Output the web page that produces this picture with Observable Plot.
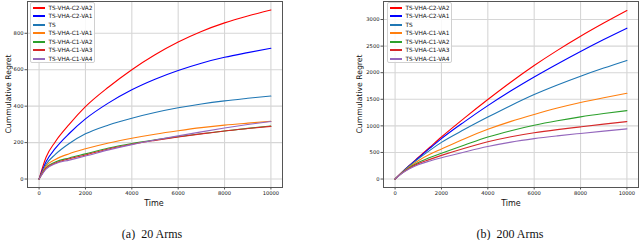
<!DOCTYPE html>
<html>
<head>
<meta charset="utf-8">
<script src="https://cdn.jsdelivr.net/npm/d3@7"></script>
<script src="https://cdn.jsdelivr.net/npm/@observablehq/plot@0.6"></script>
<style>
  html, body { margin: 0; padding: 0; background: white; }
  #root { position: relative; width: 640px; height: 240px; overflow: hidden; font-family: "DejaVu Sans", sans-serif; }
  .panel { position: absolute; top: 0; width: 320px; height: 210px; }
  .lbl { position: absolute; font-family: "DejaVu Sans", sans-serif; color: #111; white-space: nowrap; }
  .ylab { transform: translate(-50%, -50%) rotate(-90deg); font-size: 7.7px; }
  .xlab { transform: translate(-50%, -50%); font-size: 8px; }
  .cap { position: absolute; transform: translate(-50%, -50%); font-family: "Liberation Serif", "Times New Roman", serif; font-size: 12px; white-space: pre; color: #111; }
  .legend { position: absolute; border: 1px solid #d0d0d0; border-radius: 2px; background: rgba(255,255,255,0.85); box-sizing: border-box; }
  .legend .row { position: absolute; left: 0; height: 8px; display: flex; align-items: center; font-size: 5.8px; color: #111; white-space: nowrap; }
  .legend .sw { width: 12px; height: 2px; margin-left: 2px; margin-right: 3.5px; flex: none; }
</style>
</head>
<body>
<div id="root"></div>
<script>
// ---- data ----
const seriesNames = ["TS-VHA-C2-VA2", "TS-VHA-C2-VA1", "TS", "TS-VHA-C1-VA1", "TS-VHA-C1-VA2", "TS-VHA-C1-VA3", "TS-VHA-C1-VA4"];
const seriesColors = ["#ff0000", "#0000ff", "#1f77b4", "#ff7f0e", "#2ca02c", "#d62728", "#9467bd"];

const xTicks = [0, 2000, 4000, 6000, 8000, 10000];

// (a) 20 Arms
const timeA = [0, 300, 700, 1300, 2000, 3000, 4000, 5000, 6000, 7000, 8000, 9000, 10000];
const a_C2VA2 = [0, 120, 205, 300, 397, 505, 600, 682, 752, 810, 857, 895, 928];
const a_C2VA1 = [0, 95, 168, 250, 330, 418, 490, 548, 596, 636, 668, 694, 718];
const a_TS    = [0, 80, 135, 195, 248, 297, 334, 365, 391, 412, 429, 443, 456];
const a_C1VA1 = [0, 71, 107, 139, 166, 198, 224, 246, 265, 282, 296, 307, 317];
const a_C1VA2 = [0, 62, 93, 116, 138, 170, 195, 215, 233, 249, 264, 278, 291];
const a_C1VA3 = [0, 58, 88, 111, 132, 165, 191, 212, 231, 248, 264, 277, 289];
const a_C1VA4 = [0, 54, 84, 104, 126, 160, 189, 214, 237, 259, 280, 299, 316];
const yTicksA = [0, 200, 400, 600, 800];

// (b) 200 Arms
const timeB = [0, 300, 600, 1000, 1500, 2000, 3000, 4000, 5000, 6000, 7000, 8000, 9000, 10000];
const b_C2VA2 = [0, 128, 250, 405, 598, 790, 1150, 1495, 1825, 2135, 2420, 2685, 2933, 3169];
const b_C2VA1 = [0, 127, 246, 395, 580, 760, 1080, 1380, 1660, 1920, 2165, 2400, 2625, 2838];
const b_TS    = [0, 125, 240, 380, 540, 690, 935, 1165, 1385, 1590, 1770, 1935, 2088, 2231];
const b_C1VA1 = [0, 120, 225, 345, 465, 565, 760, 935, 1085, 1215, 1335, 1440, 1530, 1612];
const b_C1VA2 = [0, 115, 210, 310, 405, 485, 640, 790, 910, 1012, 1097, 1170, 1232, 1287];
const b_C1VA3 = [0, 112, 200, 290, 370, 445, 580, 700, 795, 870, 930, 982, 1033, 1081];
const b_C1VA4 = [0, 108, 190, 270, 340, 400, 510, 612, 695, 760, 812, 858, 902, 944];
const yTicksB = [0, 500, 1000, 1500, 2000, 2500, 3000];

function rows(time, arrays) {
  const out = [];
  arrays.forEach((arr, i) => arr.forEach((v, j) => out.push({ s: seriesNames[i], t: time[j], v })));
  return out;
}

const rowsA = rows(timeA, [a_C2VA2, a_C2VA1, a_TS, a_C1VA1, a_C1VA2, a_C1VA3, a_C1VA4]);
const rowsB = rows(timeB, [b_C2VA2, b_C2VA1, b_TS, b_C1VA1, b_C1VA2, b_C1VA3, b_C1VA4]);

function pad(lo, hi) { const m = (hi - lo) * 0.05; return [lo - m, hi + m]; }

function makePlot(data, yTicks, yMax, margins) {
  return Plot.plot({
    width: 320, height: 210,
    marginLeft: margins.left, marginRight: margins.right, marginTop: 1, marginBottom: 23,
    style: { fontFamily: "DejaVu Sans", fontSize: "5.2px", background: "transparent", color: "#111" },
    x: { domain: pad(0, 10000), label: null },
    y: { domain: pad(0, yMax), label: null },
    color: { domain: seriesNames, range: seriesColors },
    marks: [
      Plot.gridX(xTicks, { stroke: "#d6d6d6", strokeOpacity: 1, strokeWidth: 1.1 }),
      Plot.gridY(yTicks, { stroke: "#d6d6d6", strokeOpacity: 1, strokeWidth: 1.1 }),
      Plot.line(data, { x: "t", y: "v", z: "s", stroke: "s", curve: "monotone-x", strokeWidth: 1.1 }),
      Plot.frame({ stroke: "#555", strokeWidth: 1 }),
      Plot.axisX(xTicks, { tickSize: 2.5, tickPadding: 1.5, tickFormat: d => String(d), label: null, stroke: "#555" }),
      Plot.axisY(yTicks, { tickSize: 2.5, tickPadding: 1.5, tickFormat: d => String(d), label: null, stroke: "#555" })
    ]
  });
}

const root = document.getElementById("root");

function addPanel(left, plot) {
  const d = document.createElement("div");
  d.className = "panel";
  d.style.left = left + "px";
  d.appendChild(plot);
  root.appendChild(d);
}

function addText(cls, text, x, y) {
  const d = document.createElement("div");
  d.className = cls;
  d.textContent = text;
  d.style.left = x + "px";
  d.style.top = y + "px";
  root.appendChild(d);
}

function addLegend(x, y) {
  const box = document.createElement("div");
  box.className = "legend";
  box.style.left = x + "px";
  box.style.top = y + "px";
  box.style.width = "65px";
  box.style.height = "61px";
  seriesNames.forEach((n, i) => {
    const r = document.createElement("div");
    r.className = "row";
    r.style.top = (0.7 + i * 8.55) + "px";
    const sw = document.createElement("div");
    sw.className = "sw";
    sw.style.background = seriesColors[i];
    const t = document.createElement("span");
    t.textContent = n;
    r.appendChild(sw);
    r.appendChild(t);
    box.appendChild(r);
  });
  root.appendChild(box);
}

addPanel(0, makePlot(rowsA, yTicksA, 928, { left: 27, right: 38 }));
addPanel(320, makePlot(rowsB, yTicksB, 3180, { left: 63, right: 2 }));

addText("lbl ylab", "Cummulative Regret", 7.5, 94);
addText("lbl ylab", "Cummulative Regret", 359, 94);
addText("lbl xlab", "Time", 154, 202.5);
addText("lbl xlab", "Time", 511, 202.5);

addLegend(30, 2);
addLegend(387, 2);

addText("cap", "(a)  20 Arms", 152, 234);
addText("cap", "(b)  200 Arms", 510, 234);
</script>
</body>
</html>
